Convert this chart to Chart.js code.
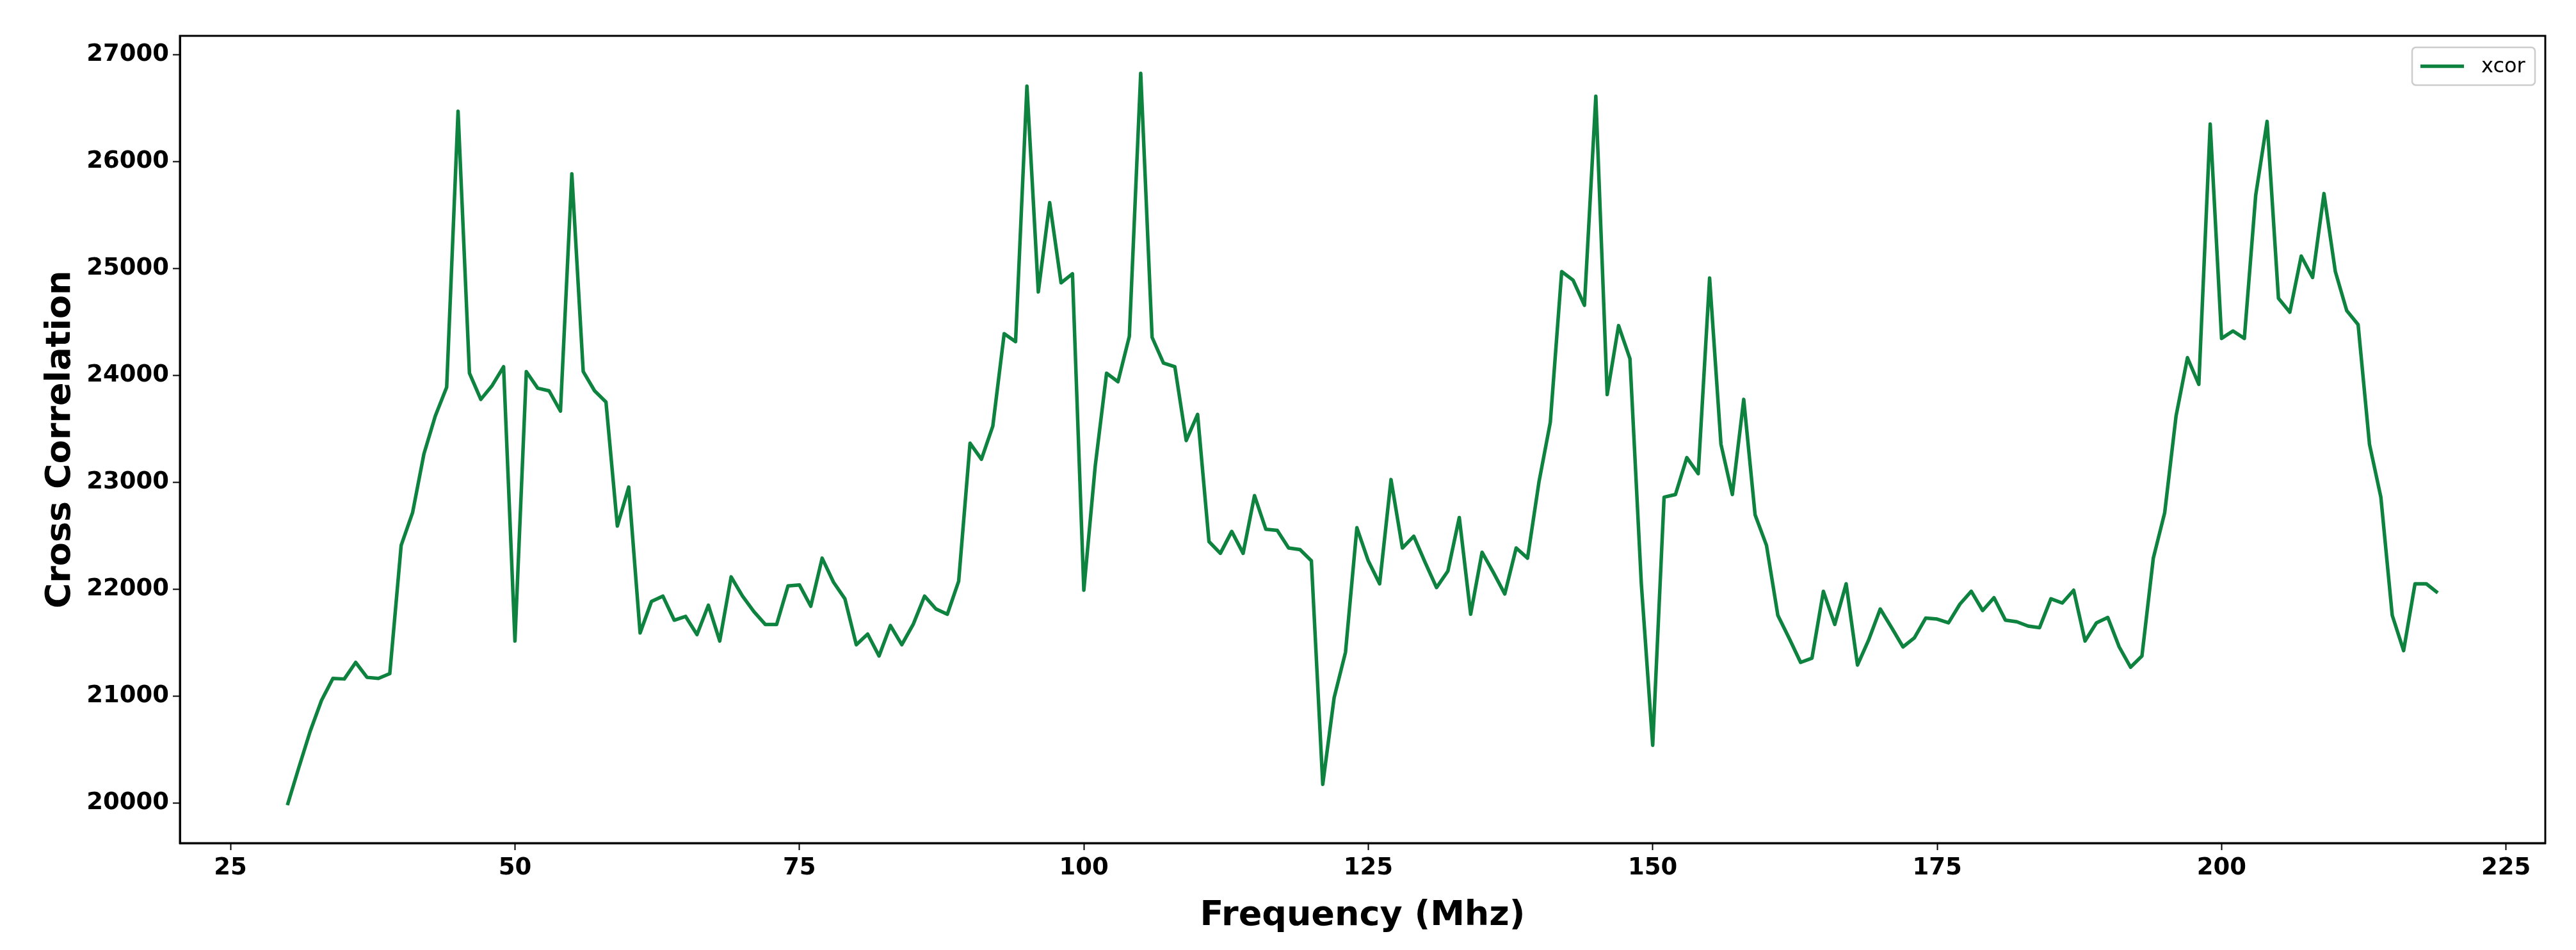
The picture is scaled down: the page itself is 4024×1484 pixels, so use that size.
<!DOCTYPE html>
<html>
<head>
<meta charset="utf-8">
<script src="https://cdn.jsdelivr.net/npm/chart.js@4.4.1/dist/chart.umd.min.js"></script>
<style>
  html, body { margin: 0; padding: 0; background: #fff; }
  #chart { display: block; }
</style>
</head>
<body>
<canvas id="chart" width="4024" height="1484"></canvas>
<script>
// frequency in MHz, one sample per MHz
const frequencies = [
  30, 31, 32, 33, 34, 35, 36, 37, 38, 39,
  40, 41, 42, 43, 44, 45, 46, 47, 48, 49,
  50, 51, 52, 53, 54, 55, 56, 57, 58, 59,
  60, 61, 62, 63, 64, 65, 66, 67, 68, 69,
  70, 71, 72, 73, 74, 75, 76, 77, 78, 79,
  80, 81, 82, 83, 84, 85, 86, 87, 88, 89,
  90, 91, 92, 93, 94, 95, 96, 97, 98, 99,
  100, 101, 102, 103, 104, 105, 106, 107, 108, 109,
  110, 111, 112, 113, 114, 115, 116, 117, 118, 119,
  120, 121, 122, 123, 124, 125, 126, 127, 128, 129,
  130, 131, 132, 133, 134, 135, 136, 137, 138, 139,
  140, 141, 142, 143, 144, 145, 146, 147, 148, 149,
  150, 151, 152, 153, 154, 155, 156, 157, 158, 159,
  160, 161, 162, 163, 164, 165, 166, 167, 168, 169,
  170, 171, 172, 173, 174, 175, 176, 177, 178, 179,
  180, 181, 182, 183, 184, 185, 186, 187, 188, 189,
  190, 191, 192, 193, 194, 195, 196, 197, 198, 199,
  200, 201, 202, 203, 204, 205, 206, 207, 208, 209,
  210, 211, 212, 213, 214, 215, 216, 217, 218, 219
]

const xcor = [
  19980, 20330, 20670, 20960, 21165, 21160, 21315, 21175, 21165, 21210,
  22410, 22715, 23265, 23620, 23890, 26470, 24020, 23775, 23905, 24080,
  21515, 24035, 23880, 23855, 23665, 25885, 24035, 23855, 23750, 22590,
  22955, 21590, 21885, 21935, 21710, 21745, 21575, 21850, 21515, 22115,
  21935, 21790, 21670, 21670, 22030, 22040, 21840, 22290, 22065, 21910,
  21480, 21580, 21375, 21660, 21480, 21670, 21935, 21815, 21765, 22075,
  23365, 23215, 23525, 24390, 24315, 26705, 24780, 25615, 24865, 24950,
  21990, 23150, 24020, 23940, 24365, 26825, 24355, 24115, 24080, 23390,
  23635, 22445, 22335, 22540, 22335, 22875, 22560, 22550, 22385, 22370,
  22265, 20175, 20985, 21410, 22575, 22265, 22050, 23025, 22385, 22495,
  22250, 22015, 22170, 22670, 21765, 22345, 22155, 21955, 22385, 22290,
  23000, 23560, 24970, 24890, 24655, 26610, 23820, 24465, 24155, 22050,
  20540, 22860, 22885, 23230, 23080, 24910, 23355, 22885, 23775, 22695,
  22410, 21755, 21540, 21315, 21355, 21980, 21670, 22050, 21290, 21530,
  21815, 21640, 21460, 21545, 21730, 21720, 21685, 21860, 21980, 21800,
  21920, 21710, 21695, 21655, 21640, 21910, 21870, 21990, 21515, 21685,
  21735, 21460, 21270, 21375, 22290, 22715, 23620, 24165, 23915, 26350,
  24345, 24415, 24345, 25685, 26375, 24720, 24590, 25115, 24915, 25700,
  24970, 24605, 24475, 23355, 22860, 21755, 21425, 22050, 22050, 21965
]

const xTicks = [25, 50, 75, 100, 125, 150, 175, 200, 225]
const yTicks = [20000, 21000, 22000, 23000, 24000, 25000, 26000, 27000]

const lineColor = '#0e823f'
const fontFamily = "'DejaVu Sans', sans-serif"

// matplotlib-style box: all four spines
const frame = {
  id: 'frame',
  afterDraw(chart) {
    const { ctx, chartArea: a } = chart
    ctx.save()
    ctx.strokeStyle = '#000'
    ctx.lineWidth = 3
    ctx.strokeRect(a.left, a.top, a.right - a.left, a.bottom - a.top)
    ctx.restore()
  }
}

// legend sits inside the axes, upper right
const insideLegend = {
  id: 'insideLegend',
  afterDraw(chart) {
    const { ctx, chartArea: a } = chart
    const ds = chart.data.datasets[0]
    const w = 192, h = 59
    const x = a.right - 16 - w
    const y = a.top + 18
    ctx.save()
    ctx.beginPath()
    ctx.roundRect(x, y, w, h, 6)
    ctx.fillStyle = 'rgba(255,255,255,0.8)'
    ctx.fill()
    ctx.strokeStyle = '#cccccc'
    ctx.lineWidth = 2.5
    ctx.stroke()

    ctx.beginPath()
    ctx.moveTo(x + 13, y + h / 2)
    ctx.lineTo(x + 81, y + h / 2)
    ctx.strokeStyle = ds.borderColor
    ctx.lineWidth = ds.borderWidth
    ctx.stroke()

    ctx.fillStyle = '#000'
    ctx.font = `32px ${fontFamily}`
    ctx.textBaseline = 'middle'
    ctx.fillText(ds.label, x + 108, y + h / 2 + 1)
    ctx.restore()
  }
}

const tickFont = { family: fontFamily, weight: 'bold', size: 37 }
const titleFont = { family: fontFamily, weight: 'bold', size: 54 }

new Chart(document.getElementById('chart').getContext('2d'), {
  type: 'line',
  data: {
    datasets: [{
      label: 'xcor',
      data: frequencies.map((f, i) => ({ x: f, y: xcor[i] })),
      borderColor: lineColor,
      borderWidth: 5.5,
      borderJoinStyle: 'round',
      pointRadius: 0,
      tension: 0,
      fill: false
    }]
  },
  options: {
    responsive: false,
    animation: false,
    devicePixelRatio: 1,
    layout: { padding: { top: 56, right: 48, left: 0, bottom: 0 } },
    plugins: {
      legend: { display: false },
      tooltip: { enabled: false }
    },
    scales: {
      x: {
        type: 'linear',
        min: 20.55,
        max: 228.45,
        afterBuildTicks: scale => { scale.ticks = xTicks.map(v => ({ value: v })) },
        afterFit: scale => { scale.height = 167 },
        grid: { drawOnChartArea: false, drawTicks: true, tickLength: 11, tickWidth: 2, tickColor: '#000' },
        border: { display: true, color: '#000', width: 3 },
        ticks: {
          color: '#000', font: tickFont, padding: 6,
          maxRotation: 0, autoSkip: false,
          callback: v => String(v)
        },
        title: {
          display: true, text: 'Frequency (Mhz)', color: '#000', font: titleFont,
          padding: { top: 0, bottom: 21 }
        }
      },
      y: {
        type: 'linear',
        min: 19625,
        max: 27175,
        afterBuildTicks: scale => { scale.ticks = yTicks.map(v => ({ value: v })) },
        afterFit: scale => { scale.width = 281 },
        grid: { drawOnChartArea: false, drawTicks: true, tickLength: 11, tickWidth: 2, tickColor: '#000' },
        border: { display: true, color: '#000', width: 3 },
        ticks: {
          color: '#000', font: tickFont, padding: 6,
          autoSkip: false,
          callback: v => String(v)
        },
        title: {
          display: true, text: 'Cross Correlation', color: '#000', font: titleFont,
          padding: { top: 63, bottom: 0 }
        }
      }
    }
  },
  plugins: [frame, insideLegend]
})
</script>
</body>
</html>
